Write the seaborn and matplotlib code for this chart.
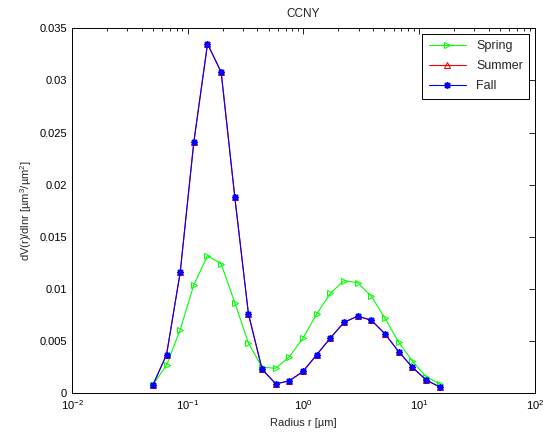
import numpy as np
import pandas as pd
import matplotlib
matplotlib.use("Agg")
import matplotlib.pyplot as plt
import seaborn as sns
from matplotlib.ticker import LogLocator, FixedLocator

radius = [0.05, 0.065604, 0.086077, 0.112939, 0.148184, 0.194429, 0.255105,
          0.334716, 0.439173, 0.576227, 0.756052, 0.991996, 1.301571, 1.707757,
          2.240702, 2.939966, 3.857452, 5.061260, 6.640745, 8.713145, 11.432287, 15.0]

spring = [0.0008, 0.0027, 0.0061, 0.0104, 0.0132, 0.0124, 0.0087, 0.0048,
          0.0025, 0.0024, 0.0035, 0.0053, 0.0076, 0.0096, 0.0108, 0.0106,
          0.0093, 0.0072, 0.0049, 0.0031, 0.0016, 0.0009]

fall = [0.0008, 0.0037, 0.0116, 0.0241, 0.0335, 0.0308, 0.0188, 0.0076,
        0.0023, 0.0009, 0.0012, 0.0021, 0.0037, 0.0053, 0.0068, 0.0074,
        0.0070, 0.0057, 0.0040, 0.0025, 0.0013, 0.0006]

summer = list(fall)

yticks = [0, 0.005, 0.01, 0.015, 0.02, 0.025, 0.03, 0.035]
ytick_labels = ["0", "0.005", "0.01", "0.015", "0.02", "0.025", "0.03", "0.035"]

sns.set_style("white")
plt.rcParams['font.family'] = ['Liberation Sans', 'DejaVu Sans']
plt.rcParams['mathtext.fontset'] = 'custom'
plt.rcParams['mathtext.rm'] = 'Liberation Sans'
plt.rcParams['mathtext.it'] = 'Liberation Sans'

fig = plt.figure(figsize=(5.47, 4.43), dpi=100)
ax = fig.add_axes([0.1316, 0.1122, 0.8464, 0.8240])

lw = 0.8
ms = 5
sns.lineplot(x=radius, y=spring, ax=ax, color=(0, 1, 0), marker='>',
             markerfacecolor='none', markeredgecolor=(0, 1, 0), markersize=ms,
             linewidth=lw, label='Spring')
sns.lineplot(x=radius, y=summer, ax=ax, color=(1, 0, 0), marker='^',
             markerfacecolor='none', markeredgecolor=(1, 0, 0), markersize=ms,
             linewidth=lw, label='Summer')
sns.lineplot(x=radius, y=fall, ax=ax, color=(0, 0, 1), marker=(8, 2, 0),
             markerfacecolor='none', markeredgecolor=(0, 0, 1), markersize=ms,
             markeredgewidth=1.0, linewidth=lw, label='Fall')

ax.set_xscale('log')
ax.set_xlim(1e-2, 1e2)
ax.set_ylim(0, 0.035)
ax.yaxis.set_major_locator(FixedLocator(yticks))
ax.set_yticklabels(ytick_labels)
ax.xaxis.set_major_locator(LogLocator(base=10, numticks=10))
ax.xaxis.set_minor_locator(LogLocator(base=10, subs=np.arange(2, 10), numticks=20))

ax.tick_params(axis='both', which='both', direction='in', top=True, right=True,
               labelsize=8, colors='black', width=0.6)
ax.tick_params(axis='both', which='major', length=4)
ax.tick_params(axis='x', which='minor', length=2.5)
for s in ax.spines.values():
    s.set_color('black')
    s.set_linewidth(0.7)

ax.set_title('CCNY', fontsize=8.5, pad=8)
ax.set_xlabel('Radius r [\u00b5m]', fontsize=8)
ax.set_ylabel('dV(r)/dlnr [\u00b5m$^3$/\u00b5m$^2$]', fontsize=8)

leg = ax.legend(loc='upper right', fontsize=9, frameon=True, fancybox=False,
                edgecolor='black', framealpha=1, borderaxespad=0.45,
                handlelength=3.0, labelspacing=0.65, borderpad=0.5)
leg.get_frame().set_linewidth(0.7)

fig.savefig('out.png', dpi=100)
